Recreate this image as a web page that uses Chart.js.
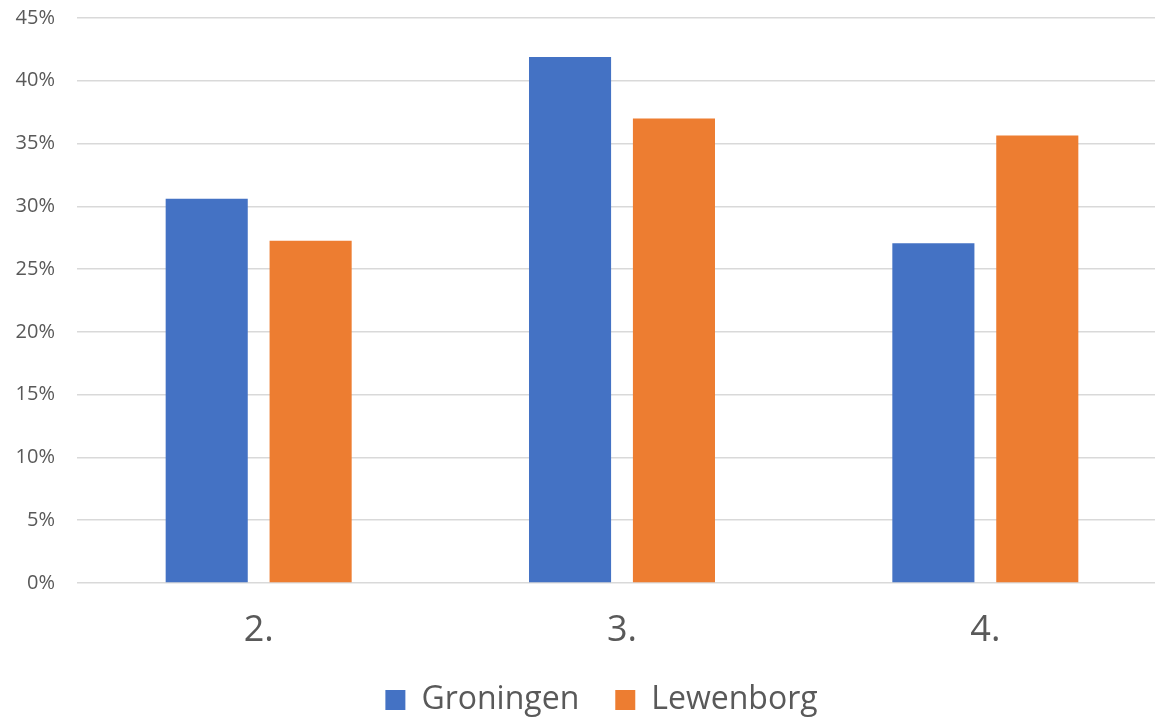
<!DOCTYPE html>
<html>
<head>
<meta charset="utf-8">
<script src="https://cdn.jsdelivr.net/npm/chart.js@4"></script>
<style>
  body { margin: 0; background: #fff; }
</style>
</head>
<body>
<canvas id="barChart" width="1155" height="717"></canvas>
<script>
var categories = ['2.', '3.', '4.'];
var groningen = [30.6, 41.9, 27.05];
var lewenborg = [27.25, 37.0, 35.65];
var yTicks = [0, 5, 10, 15, 20, 25, 30, 35, 40, 45];

// the original plot runs a little past the right edge of the image,
// and its legend sits a bit right of the canvas centre
var layoutTweak = {
    id: 'layoutTweak',
    afterLayout: function (chart) {
        var x = chart.scales.x;
        x.right += 12;
        x.width += 12;
        x.configure();
        chart.chartArea.right += 12;
        chart.chartArea.width += 12;
        chart.legend.left += 24;
        chart.legend.right += 24;
    }
};

document.addEventListener('DOMContentLoaded', function () {
    var ctx = document.getElementById('barChart').getContext('2d');

    new Chart(ctx, {
        type: 'bar',
        data: {
            labels: categories,
            datasets: [{
                label: 'Groningen',
                data: groningen,
                backgroundColor: '#4472C4',
                borderWidth: 0
            }, {
                label: 'Lewenborg',
                data: lewenborg,
                backgroundColor: '#ED7D31',
                borderWidth: 0
            }]
        },
        plugins: [layoutTweak],
        options: {
            responsive: false,
            animation: false,
            categoryPercentage: 0.572,
            barPercentage: 0.79,
            layout: {
                padding: { left: 0, right: 0, top: 18, bottom: -9 }
            },
            scales: {
                x: {
                    grid: { display: false, drawTicks: false },
                    border: { display: false },
                    ticks: {
                        color: '#595959',
                        padding: 26,
                        font: { family: 'Open Sans', size: 36 }
                    },
                    afterFit: function (axis) {
                        axis.height = 65;
                    }
                },
                y: {
                    min: 0,
                    max: 45,
                    afterBuildTicks: function (axis) {
                        axis.ticks = yTicks.map(function (v) { return { value: v }; });
                    },
                    afterFit: function (axis) {
                        axis.width = 77;
                        axis.paddingTop = 0;
                        axis.paddingBottom = 0;
                    },
                    grid: { color: '#D9D9D9', lineWidth: 1.5, drawTicks: false },
                    border: { display: false },
                    ticks: {
                        color: '#595959',
                        padding: 22,
                        font: { family: 'Open Sans', size: 20 },
                        callback: function (v) { return v + '%'; }
                    }
                }
            },
            plugins: {
                tooltip: { enabled: false },
                legend: {
                    position: 'bottom',
                    labels: {
                        color: '#595959',
                        boxWidth: 20,
                        boxHeight: 20,
                        padding: 36,
                        font: { family: 'Open Sans', size: 32 }
                    }
                }
            }
        }
    });
});
</script>
</body>
</html>
